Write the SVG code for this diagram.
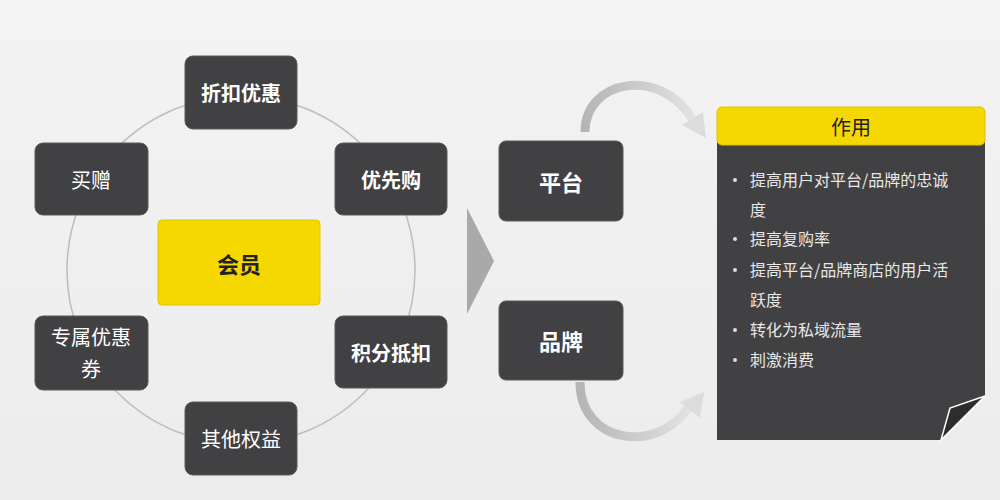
<svg xmlns="http://www.w3.org/2000/svg" width="1000" height="500" viewBox="0 0 1000 500">
<defs>
<linearGradient id="bg" x1="0" y1="0" x2="0" y2="1"><stop offset="0" stop-color="#f3f3f3"/><stop offset="1" stop-color="#ececec"/></linearGradient>
<linearGradient id="arc" x1="0" y1="0" x2="1" y2="0"><stop offset="0" stop-color="#b5b5b5"/><stop offset="1" stop-color="#e2e2e2"/></linearGradient>
</defs>
<style>
.n{fill:#414042;stroke:#5a5a5a;stroke-width:1}
.t{font-family:"Noto Sans CJK SC",sans-serif;fill:#fff;font-size:20px;text-anchor:middle;dominant-baseline:central}
.b{font-weight:bold}
.li{font-family:"Noto Sans CJK SC",sans-serif;fill:#e8e8e8;font-size:16px}
</style>
<rect width="1000" height="500" fill="url(#bg)"/>
<g id="connectors">
<circle cx="241" cy="270" r="174" fill="none" stroke="#bdbdbd" stroke-width="1.5"/>
<polygon points="467,208 494,261 467,314" fill="#a9a9ab"/>
<path d="M585,132 C585,80 660,65 693,120" fill="none" stroke="url(#arc)" stroke-width="9"/>
<polygon points="682,125 706,138 703,112" fill="#dcdcdc"/>
<path d="M580,382 C580,445 660,455 690,405" fill="none" stroke="url(#arc)" stroke-width="9"/>
<polygon points="680,402 704,392 700,418" fill="#dcdcdc"/>
</g>
<g id="n1"><rect class="n" x="185" y="56" width="112" height="73" rx="8"/><text class="t b" x="241" y="92">折扣优惠</text></g>
<g id="n2"><rect class="n" x="335" y="143" width="112" height="72" rx="8"/><text class="t b" x="391" y="179">优先购</text></g>
<g id="n3"><rect class="n" x="35" y="143" width="113" height="72" rx="8"/><text class="t" x="91" y="179">买赠</text></g>
<g id="n4"><rect x="158" y="220" width="162" height="85" rx="4" fill="#f5d800" stroke="#e0c400"/><text class="t b" x="239" y="263" fill="#222" style="fill:#222;font-size:22px">会员</text></g>
<g id="n5"><rect class="n" x="35" y="316" width="113" height="74" rx="8"/><text class="t" x="91" y="336">专属优惠</text><text class="t" x="91" y="368">券</text></g>
<g id="n6"><rect class="n" x="335" y="316" width="112" height="72" rx="8"/><text class="t b" x="391" y="352">积分抵扣</text></g>
<g id="n7"><rect class="n" x="185" y="402" width="112" height="73" rx="8"/><text class="t" x="241" y="438">其他权益</text></g>
<g id="n8"><rect class="n" x="499" y="141" width="124" height="80" rx="7"/><text class="t b" x="561" y="181" style="font-size:22px">平台</text></g>
<g id="n9"><rect class="n" x="499" y="301" width="124" height="79" rx="7"/><text class="t b" x="561" y="340" style="font-size:22px">品牌</text></g>
<g id="n10">
<polygon points="717,140 985,140 985,396 941,440 717,440" fill="#414042"/>
<polygon points="941,440 985,396 950,408" fill="#2e2d2e" stroke="#fff" stroke-width="1.5"/>
<rect x="717" y="107" width="268" height="38" rx="5" fill="#f5d800" stroke="#e0c400"/>
<text class="t" x="851" y="126" style="fill:#222;font-size:20px">作用</text>
<g class="li">
<circle cx="735" cy="180" r="2" fill="#ddd"/><text x="750" y="186">提高用户对平台/品牌的忠诚</text>
<text x="750" y="216">度</text>
<circle cx="735" cy="239" r="2" fill="#ddd"/><text x="750" y="245">提高复购率</text>
<circle cx="735" cy="270" r="2" fill="#ddd"/><text x="750" y="276">提高平台/品牌商店的用户活</text>
<text x="750" y="306">跃度</text>
<circle cx="735" cy="330" r="2" fill="#ddd"/><text x="750" y="336">转化为私域流量</text>
<circle cx="735" cy="360" r="2" fill="#ddd"/><text x="750" y="366">刺激消费</text>
</g>
</g>
</svg>
